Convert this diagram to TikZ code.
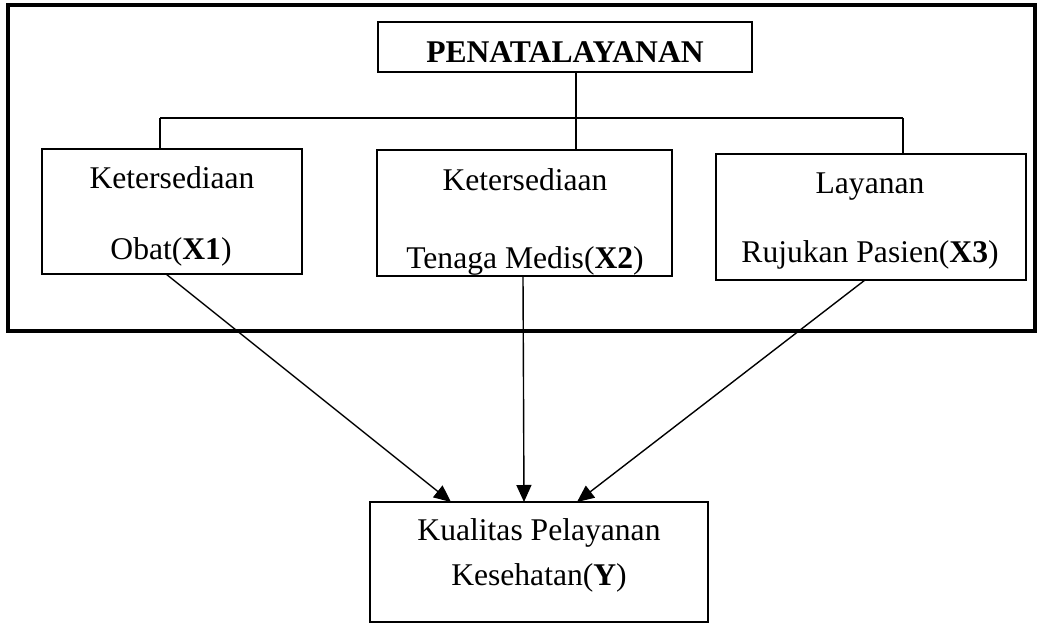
\documentclass[tikz,border=0pt]{standalone}
\usepackage{fontspec}
\setmainfont{Liberation Serif}
\usetikzlibrary{arrows.meta,calc}

\tikzset{
  box/.style={draw, line width=1.5pt, inner sep=0pt, outer sep=0pt},
  txt/.style={inner sep=0pt, anchor=base, font=\fontsize{31.6}{38}\selectfont},
  link/.style={line width=1.4pt},
  arr/.style={line width=1.4pt, -{Triangle[length=17pt,width=15pt]}},
}

\begin{document}
\begin{tikzpicture}[x=1pt, y=-1pt]
  \useasboundingbox (0,0) rectangle (1037,623);

  % frame around the service management block
  \draw[line width=3.8pt] (8,5) rectangle (1035,331);

  % boxes
  \node[box, minimum width=374pt, minimum height=50pt]  (top) at (565,47)    {};
  \node[box, minimum width=260pt, minimum height=125pt] (x1)  at (172,211.5) {};
  \node[box, minimum width=295pt, minimum height=126pt] (x2)  at (524.5,213) {};
  \node[box, minimum width=310pt, minimum height=126pt] (x3)  at (871,217)   {};
  \node[box, minimum width=338pt, minimum height=120pt] (y)   at (539,562)   {};

  % labels
  \node[txt] (ttop) at (565,63)  {\textbf{PENATALAYANAN}};
  \node[txt] (x1a)  at (172,189) {Ketersediaan};
  \node[txt] (x1b)  at (171,259) {Obat(\textbf{X1})};
  \node[txt] (x2a)  at (525,191) {Ketersediaan};
  \node[txt] (x2b)  at (525,268) {Tenaga Medis(\textbf{X2})};
  \node[txt] (x3a)  at (870,194) {Layanan};
  \node[txt] (x3b)  at (870,262) {Rujukan Pasien(\textbf{X3})};
  \node[txt] (ya)   at (539,540) {Kualitas Pelayanan};
  \node[txt] (yb)   at (539,585) {Kesehatan(\textbf{Y})};

  % branching tree from the top box
  \coordinate (jn) at (576,118);
  \coordinate (jl) at (160,118);
  \coordinate (jr) at (903,118);
  \draw[link] (top.south -| jn) -- (jn);
  \draw[link] (jl) -- (jr);
  \draw[link] (jl) -- (jl |- x1.north);
  \draw[link] (jn) -- (jn |- x2.north);
  \draw[link] (jr) -- (jr |- x3.north);

  % influence arrows
  \draw[arr] ($(x1.south)+(-6,0)$)   -- ($(y.north)+(-88,0)$);
  \draw[arr] ($(x2.south)+(-1.5,0)$) -- ($(y.north)+(-15,0)$);
  \draw[arr] ($(x3.south)+(-6,0)$)   -- ($(y.north)+(38,0)$);
\end{tikzpicture}
\end{document}
